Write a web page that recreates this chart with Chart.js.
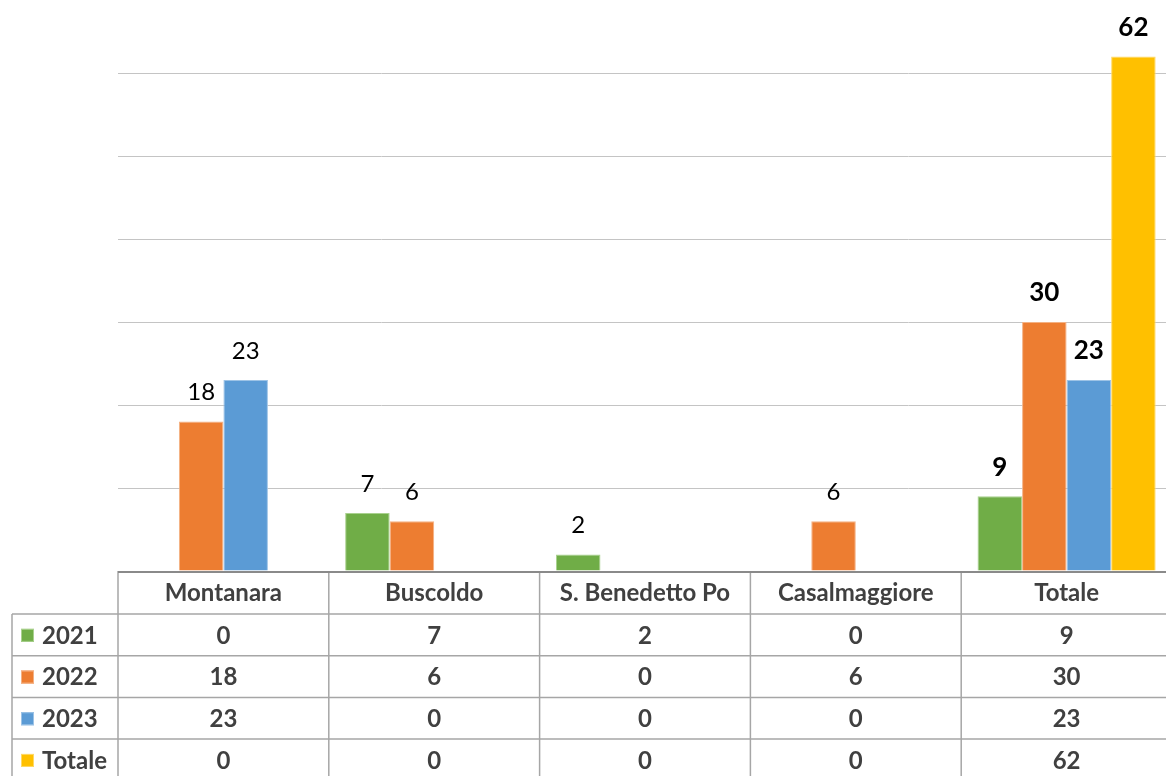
<!DOCTYPE html>
<html><head><meta charset="utf-8">
<script src="https://cdn.jsdelivr.net/npm/chart.js@4"></script>
<style>
html,body{margin:0;padding:0;background:#fff;overflow:hidden;width:1166px;height:776px}
#wrap{position:absolute;left:0;top:-20px;width:1180px;height:800px}
</style>
</head><body>
<div id="wrap"><canvas id="c" width="1180" height="800"></canvas></div>
<script>
const categories = ['Montanara','Buscoldo','S. Benedetto Po','Casalmaggiore','Totale'];
const seriesNames = ['2021','2022','2023','Totale'];
const v2021 = [0,7,2,0,9];
const v2022 = [18,6,0,6,30];
const v2023 = [23,0,0,0,23];
const vTotale = [0,0,0,0,62];
const yMax = 70;
const yStep = 10;

const seriesValues = [v2021, v2022, v2023, vTotale];
const fills = ['#70AD47','#ED7D31','#5B9BD5','#FFC000'];
const edges = ['#A9D18E','#F4B183','#9DC3E6','#FFD966'];
const FONT = 'Lato, "Open Sans", sans-serif';

const labelsPlugin = {
  id: 'barLabels',
  afterDatasetsDraw(chart) {
    const ctx = chart.ctx;
    ctx.save();
    ctx.textAlign = 'center';
    ctx.textBaseline = 'middle';
    ctx.fillStyle = '#000';
    chart.data.datasets.forEach((ds, di) => {
      const meta = chart.getDatasetMeta(di);
      meta.data.forEach((bar, i) => {
        const v = seriesValues[di][i];
        if (!v) return;
        const isTot = i === categories.length - 1;
        ctx.font = (isTot ? 'bold 26px ' : '24px ') + FONT;
        ctx.fillText(String(v), bar.x, bar.y - 29);
      });
    });
    ctx.restore();
  }
};

const tablePlugin = {
  id: 'dataTable',
  afterDraw(chart) {
    const ctx = chart.ctx;
    const xs = chart.scales.x, ys = chart.scales.y;
    const base = ys.getPixelForValue(0);
    const catW = xs.getPixelForValue(1) - xs.getPixelForValue(0);
    const left0 = xs.getPixelForValue(0) - catW / 2;
    const right = xs.getPixelForValue(categories.length - 1) + catW / 2;
    const headH = 43;
    const rowH = 41.7;
    const legL = 12;
    ctx.save();
    ctx.strokeStyle = '#a6a6a6';
    ctx.lineWidth = 1.5;
    const nRows = seriesNames.length;
    const bottom = base + headH + rowH * nRows;
    for (let c = 0; c <= categories.length; c++) {
      const x = left0 + c * catW;
      ctx.beginPath(); ctx.moveTo(x, base); ctx.lineTo(x, bottom); ctx.stroke();
    }
    ctx.beginPath(); ctx.moveTo(legL, base + headH); ctx.lineTo(legL, bottom); ctx.stroke();
    for (let r = 0; r <= nRows; r++) {
      const y = base + headH + r * rowH;
      ctx.beginPath(); ctx.moveTo(legL, y); ctx.lineTo(right, y); ctx.stroke();
    }
    ctx.strokeStyle = '#8a8a8a';
    ctx.lineWidth = 2.2;
    ctx.beginPath(); ctx.moveTo(left0, base + 1); ctx.lineTo(right, base + 1); ctx.stroke();
    ctx.fillStyle = '#404040';
    ctx.font = 'bold 24px ' + FONT;
    ctx.textAlign = 'center';
    ctx.textBaseline = 'middle';
    categories.forEach((c, i) => {
      ctx.fillText(c, xs.getPixelForValue(i), base + headH / 2 + 1);
    });
    seriesNames.forEach((s, r) => {
      const cy = base + headH + r * rowH + rowH / 2 + 1;
      ctx.fillStyle = fills[r];
      ctx.fillRect(21, cy - 7, 13, 13);
      ctx.strokeStyle = edges[r];
      ctx.lineWidth = 1;
      ctx.strokeRect(21.5, cy - 6.5, 12, 12);
      ctx.fillStyle = '#404040';
      ctx.textAlign = 'left';
      ctx.fillText(s, 42, cy);
      ctx.textAlign = 'center';
      seriesValues[r].forEach((v, i) => {
        ctx.fillText(String(v), xs.getPixelForValue(i), cy);
      });
    });
    ctx.restore();
  }
};

new Chart(document.getElementById('c'), {
  type: 'bar',
  data: {
    labels: categories,
    datasets: seriesNames.map((n, i) => ({
      label: n,
      data: seriesValues[i].map(v => v === 0 ? null : v),
      backgroundColor: fills[i],
      borderColor: edges[i],
      borderWidth: 1,
      borderSkipped: 'bottom',
      categoryPercentage: 0.845,
      barPercentage: 1
    }))
  },
  options: {
    responsive: false,
    animation: false,
    layout: { padding: { top: 10, bottom: 209, left: 118, right: 8 } },
    plugins: { legend: { display: false }, tooltip: { enabled: false } },
    scales: {
      x: { display: false },
      y: {
        min: 0, max: yMax,
        ticks: { display: false, stepSize: yStep },
        grid: { color: '#c4c4c4', lineWidth: 1, drawTicks: false },
        border: { display: false }
      }
    }
  },
  plugins: [labelsPlugin, tablePlugin]
});
</script>
</body></html>
